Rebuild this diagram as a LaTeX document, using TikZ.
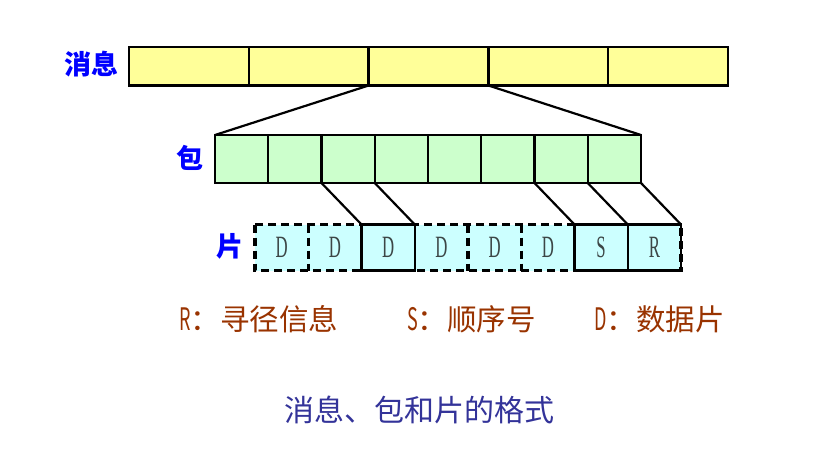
\documentclass[tikz,border=0pt]{standalone}
\usepackage{fontspec}
\usepackage{graphicx}
\setmainfont{Liberation Serif}
\newfontfamily\cjk{Noto Sans CJK SC}
\definecolor{msgfill}{RGB}{255,255,153}
\definecolor{pktfill}{RGB}{204,255,204}
\definecolor{flitfill}{RGB}{204,255,255}
\definecolor{lblblue}{RGB}{0,0,255}
\definecolor{legbrown}{RGB}{153,51,0}
\definecolor{titleblue}{RGB}{51,51,153}
\definecolor{lettergrey}{RGB}{60,70,70}
\newcommand{\cond}[1]{\scalebox{0.58}[1]{#1}}
\newcommand{\condl}[1]{\scalebox{0.54}[1]{#1}}
\tikzset{
  msgcell/.style={draw=black, line width=2.4pt, fill=msgfill, minimum width=119.8pt, minimum height=38.5pt, inner sep=0pt, outer sep=0pt},
  pktcell/.style={draw=black, line width=2.4pt, fill=pktfill, minimum width=53.25pt, minimum height=48pt, inner sep=0pt, outer sep=0pt},
  flitcell/.style={fill=flitfill, minimum width=53.25pt, minimum height=46pt, inner sep=0pt, outer sep=0pt, text=lettergrey, font=\fontsize{31}{31}\selectfont},
  solidbox/.style={draw=black, line width=2.4pt},
  dashbox/.style={draw=black, line width=3.2pt, dash pattern=on 8pt off 5pt},
  conn/.style={draw=black, line width=2.2pt},
  bluelbl/.style={text=lblblue, font=\cjk\bfseries\fontsize{27}{27}\selectfont, inner sep=0pt},
  legend/.style={text=legbrown, font=\cjk\fontsize{29.5}{29.5}\selectfont, anchor=west, inner sep=0pt},
  titlestyle/.style={text=titleblue, font=\cjk\fontsize{30}{30}\selectfont, inner sep=0pt}
}
\begin{document}
\begin{tikzpicture}[x=1pt,y=-1pt]
\useasboundingbox (0,0) rectangle (818,460);
% message
\foreach \i in {1,...,5} {
  \node[msgcell] (m\i) at ({129+119.8*(\i-0.5)},66.25) {};
}
\node[bluelbl] (lmsg) at (91,64) {消息};
% packet
\foreach \i in {1,...,8} {
  \node[pktcell] (p\i) at ({215+53.25*(\i-0.5)},159) {};
}
\node[bluelbl] (lpkt) at (190,158) {包};
% flits
\foreach \i/\t in {1/D,2/D,3/D,4/D,5/D,6/D,7/S,8/R} {
  \node[flitcell] (f\i) at ({255+53.25*(\i-0.5)},247.5) {\condl{\t}};
}
\node[bluelbl] (lflit) at (230,246) {片};
\draw[solidbox] (f3.north west) rectangle (f3.south east);
\draw[solidbox] (f7.north west) rectangle (f7.south east);
\draw[solidbox] (f8.north west) rectangle (f8.south east);
\draw[dashbox] (f1.north west) rectangle (f8.south east);
\draw[dashbox] (f1.north east) -- (f1.south east);
\draw[dashbox] (f4.north east) -- (f4.south east);
\draw[dashbox] (f5.north east) -- (f5.south east);
% connectors
\draw[conn] (m3.south west) -- (p1.north west);
\draw[conn] (m3.south east) -- (p8.north east);
\draw[conn] (p3.south west) -- (f3.north west);
\draw[conn] (p3.south east) -- (f3.north east);
\draw[conn] (p7.south west) -- (f7.north west);
\draw[conn] (p7.south east) -- (f7.north east);
\draw[conn] (p8.south east) -- (f8.north east);
% legend
\node[legend] (legR) at (179,319) {\cond{\fontsize{31}{31}\selectfont R}：寻径信息};
\node[legend] (legS) at (407,319) {\cond{\fontsize{31}{31}\selectfont S}：顺序号};
\node[legend] (legD) at (594,319) {\cond{\fontsize{31}{31}\selectfont D}：数据片};
% title
\node[titlestyle] (title) at (419,410) {消息、包和片的格式};
\end{tikzpicture}
\end{document}
